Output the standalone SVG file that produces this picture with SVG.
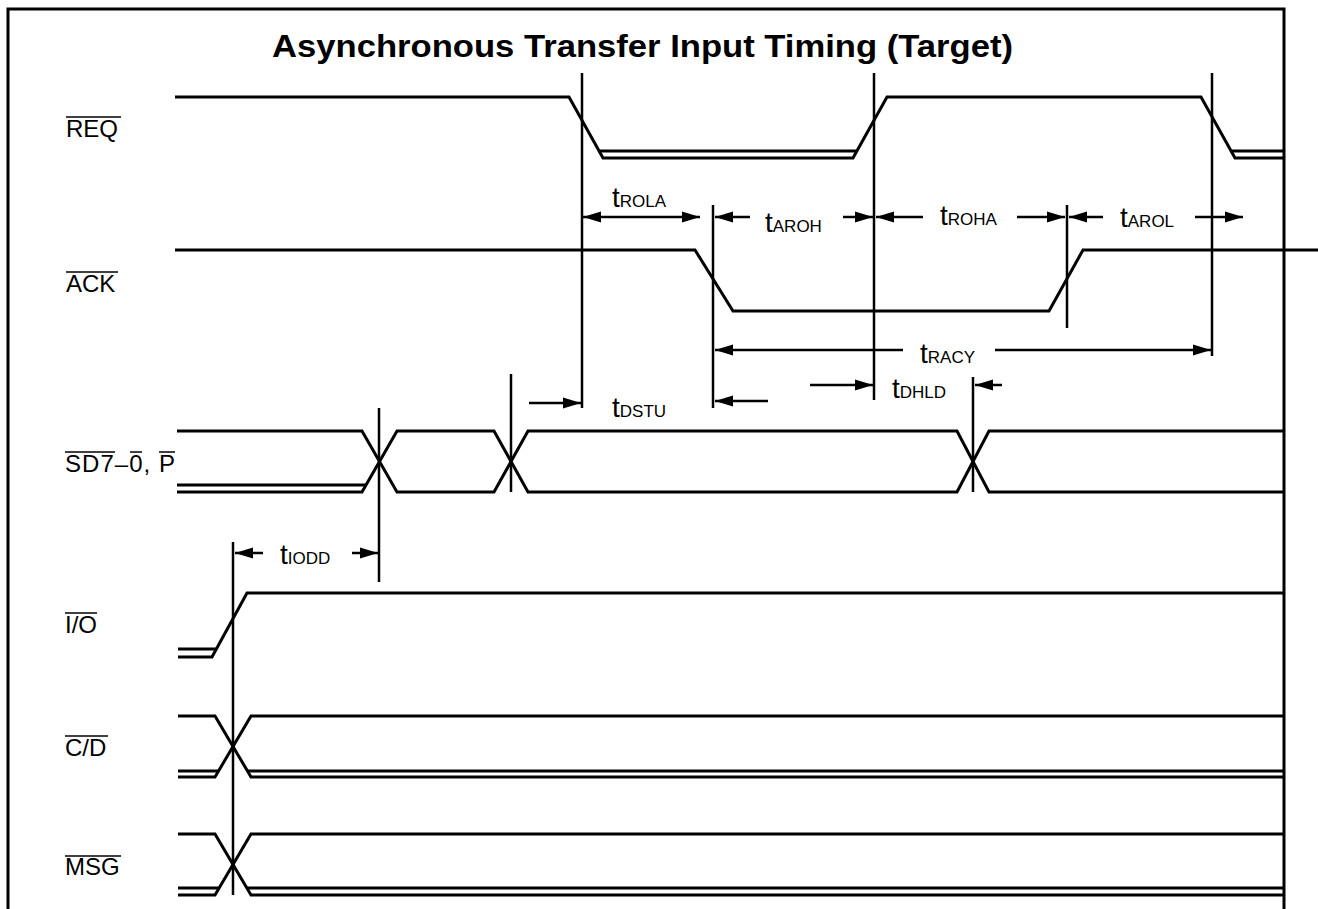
<svg xmlns="http://www.w3.org/2000/svg" width="1318" height="909" viewBox="0 0 1318 909">
<style>
.sig{fill:none;stroke:#000;stroke-width:3;stroke-linejoin:miter}
.vl{stroke:#000;stroke-width:2.5;fill:none}
.ar{stroke:#000;stroke-width:2.5;fill:none}
.lbl{font-family:"Liberation Sans",Arial,sans-serif;font-size:24px;fill:#000}
.ol{stroke:#000;stroke-width:1.5}
.t{font-family:"Liberation Sans",Arial,sans-serif;font-size:28px;fill:#000}
.sub{font-size:17px}
.title{font-family:"Liberation Sans",Arial,sans-serif;font-size:32px;font-weight:bold;fill:#000}
</style>
<defs>
<marker id="ah" markerUnits="userSpaceOnUse" markerWidth="20" markerHeight="12" refX="18" refY="6" orient="auto-start-reverse">
<path d="M0,0.5 L18,6 L0,11.5 z" fill="#000"/>
</marker>
</defs>
<rect width="1318" height="909" fill="#fff"/>
<g id="frame">
<path d="M8,909 V9 H1284 V909" fill="none" stroke="#000" stroke-width="3"/>
</g>
<text class="title" x="272" y="57" textLength="741" lengthAdjust="spacingAndGlyphs">Asynchronous Transfer Input Timing (Target)</text>

<g id="REQ">
<text class="lbl" x="66" y="137">REQ</text>
<line class="ol" x1="66" y1="117" x2="121" y2="117"/>
<path class="sig" d="M175,97 H569 L603,158 H853 L887,97 H1201 L1235,158 H1284"/>
<path class="sig" d="M599,151 H857 M1231,151 H1284"/>
</g>

<g id="ACK">
<text class="lbl" x="66" y="292">ACK</text>
<line class="ol" x1="66" y1="272" x2="118" y2="272"/>
<path class="sig" d="M175,250 H695 L733,311 H1049 L1083,250 H1318"/>
</g>

<g id="SD">
<text class="lbl" x="65" y="472" textLength="110" lengthAdjust="spacing">SD7–0, P</text>
<line class="ol" x1="65" y1="452" x2="115" y2="452"/>
<line class="ol" x1="130" y1="452" x2="142" y2="452"/>
<line class="ol" x1="159" y1="452" x2="175" y2="452"/>
<path class="sig" d="M177,431 H362 L397,492 H494 L528,431 H957 L989,492 H1284"/>
<path class="sig" d="M177,492 H362 L397,431 H494 L528,492 H957 L989,431 H1284"/>
<path class="sig" d="M177,485 H366"/>
</g>

<g id="IO">
<text class="lbl" x="65" y="633">I/O</text>
<line class="ol" x1="65" y1="613" x2="97" y2="613"/>
<path class="sig" d="M178,657 H212 L247,593 H1284"/>
<path class="sig" d="M178,649 H216"/>
</g>

<g id="CD">
<text class="lbl" x="65" y="756">C/D</text>
<line class="ol" x1="65" y1="736" x2="108" y2="736"/>
<path class="sig" d="M178,716 H215 L251,777 H1284"/>
<path class="sig" d="M178,777 H215 L251,716 H1284"/>
<path class="sig" d="M178,771 H218.5 M247.5,771 H1284"/>
</g>

<g id="MSG">
<text class="lbl" x="65" y="875">MSG</text>
<line class="ol" x1="65" y1="856" x2="121" y2="856"/>
<path class="sig" d="M178,834 H215 L251,895 H1284"/>
<path class="sig" d="M178,895 H215 L251,834 H1284"/>
<path class="sig" d="M178,888 H219 M247,888 H1284"/>
</g>

<g id="connectors">
<line class="vl" x1="582" y1="73" x2="582" y2="408"/>
<line class="vl" x1="874" y1="73" x2="874" y2="400"/>
<line class="vl" x1="1212" y1="73" x2="1212" y2="356"/>
<line class="vl" x1="713" y1="205" x2="713" y2="408"/>
<line class="vl" x1="1067" y1="205" x2="1067" y2="328"/>
<line class="vl" x1="379" y1="408" x2="379" y2="582"/>
<line class="vl" x1="511" y1="374" x2="511" y2="492"/>
<line class="vl" x1="973" y1="377" x2="973" y2="492"/>
<line class="vl" x1="233" y1="542" x2="233" y2="895"/>

<line class="ar" x1="583" y1="217" x2="700" y2="217" marker-start="url(#ah)" marker-end="url(#ah)"/>
<line class="ar" x1="750" y1="217" x2="715" y2="217" marker-end="url(#ah)"/>
<line class="ar" x1="843" y1="217" x2="873" y2="217" marker-end="url(#ah)"/>
<line class="ar" x1="923" y1="217" x2="876" y2="217" marker-end="url(#ah)"/>
<line class="ar" x1="1017" y1="217" x2="1065" y2="217" marker-end="url(#ah)"/>
<line class="ar" x1="1103" y1="217" x2="1069" y2="217" marker-end="url(#ah)"/>
<line class="ar" x1="1195" y1="217" x2="1243" y2="217" marker-end="url(#ah)"/>
<line class="ar" x1="903" y1="350" x2="715" y2="350" marker-end="url(#ah)"/>
<line class="ar" x1="995" y1="350" x2="1211" y2="350" marker-end="url(#ah)"/>
<line class="ar" x1="529" y1="403" x2="581" y2="403" marker-end="url(#ah)"/>
<line class="ar" x1="768" y1="401" x2="715" y2="401" marker-end="url(#ah)"/>
<line class="ar" x1="810" y1="385" x2="873" y2="385" marker-end="url(#ah)"/>
<line class="ar" x1="1002" y1="385" x2="975" y2="385" marker-end="url(#ah)"/>
<line class="ar" x1="263" y1="553" x2="235" y2="553" marker-end="url(#ah)"/>
<line class="ar" x1="352" y1="553" x2="378" y2="553" marker-end="url(#ah)"/>
</g>

<g id="timing-labels">
<text class="t" x="612" y="207">t<tspan class="sub">ROLA</tspan></text>
<text class="t" x="765" y="232">t<tspan class="sub">AROH</tspan></text>
<text class="t" x="940" y="225">t<tspan class="sub">ROHA</tspan></text>
<text class="t" x="1120" y="227">t<tspan class="sub">AROL</tspan></text>
<text class="t" x="920" y="363">t<tspan class="sub">RACY</tspan></text>
<text class="t" x="612" y="417">t<tspan class="sub">DSTU</tspan></text>
<text class="t" x="892" y="398">t<tspan class="sub">DHLD</tspan></text>
<text class="t" x="280" y="564">t<tspan class="sub">IODD</tspan></text>
</g>
</svg>
